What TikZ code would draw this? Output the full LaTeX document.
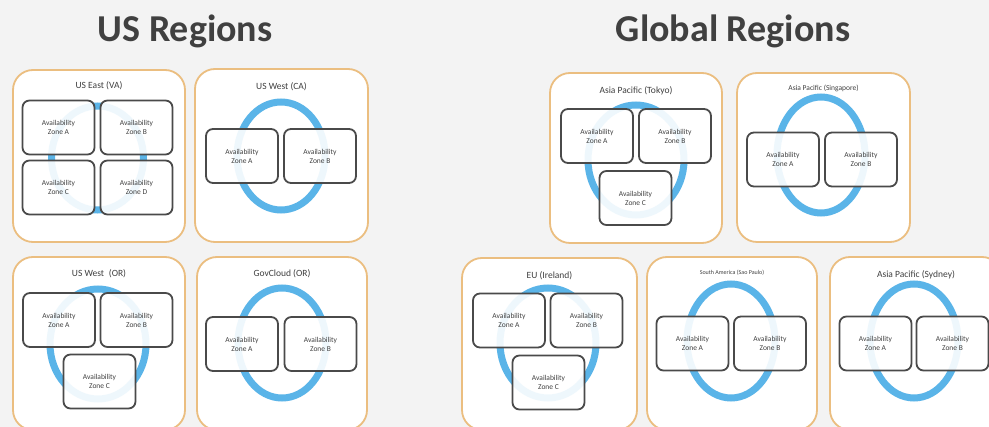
\documentclass[tikz,border=0pt]{standalone}
\usepackage{fontspec}
\setmainfont{Carlito}
\usetikzlibrary{positioning}

\definecolor{bggray}{HTML}{F3F3F3}
\definecolor{regedge}{HTML}{EBBE80}
\definecolor{zoneedge}{HTML}{4A4A4A}
\definecolor{ringblue}{HTML}{5AB4E8}
\definecolor{titlegray}{HTML}{404040}

\tikzset{
  region/.style={rectangle, rounded corners=20pt, draw=regedge, line width=1.8pt, fill=white},
  zone/.style={rectangle, rounded corners=7pt, draw=zoneedge, line width=1.8pt, fill=white, fill opacity=0.9, text opacity=1,
    minimum width=72pt, minimum height=54pt, align=center, text=black!75, font=\fontsize{7.5}{9}\selectfont, inner sep=0pt},
  ring/.style={draw=ringblue, line width=7pt},
  regtitle/.style={text=titlegray, font=\fontsize{9.5}{11}\selectfont, inner sep=0pt},
  bigtitle/.style={text=titlegray, font=\fontsize{38}{40}\selectfont\bfseries, anchor=base}
}

\begin{document}
\begin{tikzpicture}[x=1pt, y=-1pt]

\clip (0,0) rectangle (989,427);
\fill [bggray] (0,0) rectangle (989,427);

\draw (185,42) node (us) [bigtitle] {US Regions};
\draw (733,42) node (glob) [bigtitle] {Global Regions};

% US regions
\draw (99,156) node (use) [region, minimum width=172pt, minimum height=172pt] {};
\draw [ring] (97.5,158) ellipse (46 and 52);
\draw (58.5,127.5) node (usea) [zone] {Availability\\Zone A};
\draw (136.5,127.5) node (useb) [zone] {Availability\\Zone B};
\draw (58.5,187.5) node (usec) [zone] {Availability\\Zone C};
\draw (136.5,187.5) node (used) [zone] {Availability\\Zone D};
\node (uset) [regtitle, below=12pt of use.north] {US East (VA)};

\draw (281.5,155.5) node (usw) [region, minimum width=173pt, minimum height=173pt] {};
\draw [ring] (281,156) ellipse (44 and 54);
\draw (242,156) node (uswa) [zone] {Availability\\Zone A};
\draw (320,156) node (uswb) [zone] {Availability\\Zone B};
\node (uswt) [regtitle, below=14pt of usw.north] {US West (CA)};

\draw (99,343.5) node (usor) [region, minimum width=172pt, minimum height=173pt] {};
\draw [ring] (98,344) ellipse (48 and 55);
\draw (59,320) node (usora) [zone] {Availability\\Zone A};
\draw (136.5,320) node (usorb) [zone] {Availability\\Zone B};
\draw (99.5,381.5) node (usorc) [zone] {Availability\\Zone C};
\node (usort) [regtitle, below=13pt of usor.north] {US West\enspace(OR)};

\draw (282,343.5) node (gov) [region, minimum width=170pt, minimum height=173pt] {};
\draw [ring] (282,343) ellipse (44 and 55);
\draw (242,344) node (gova) [zone] {Availability\\Zone A};
\draw (320.5,344) node (govb) [zone] {Availability\\Zone B};
\node (govt) [regtitle, below=13pt of gov.north] {GovCloud (OR)};

% global regions
\draw (636,158) node (tok) [region, minimum width=172pt, minimum height=170pt] {};
\draw [ring] (636,160) ellipse (48 and 55);
\draw (597,136) node (toka) [zone] {Availability\\Zone A};
\draw (675,136) node (tokb) [zone] {Availability\\Zone B};
\draw (635.5,198) node (tokc) [zone] {Availability\\Zone C};
\node (tokt) [regtitle, below=14pt of tok.north] {Asia Pacific (Tokyo)};

\draw (823.5,157.5) node (sin) [region, minimum width=173pt, minimum height=169pt] {};
\draw [ring] (821,155) ellipse (44 and 58);
\draw (783,159.5) node (sina) [zone] {Availability\\Zone A};
\draw (861,159.5) node (sinb) [zone] {Availability\\Zone B};
\node (sint) [regtitle, font=\fontsize{7.5}{9}\selectfont, below=13pt of sin.north] {Asia Pacific (Singapore)};

\draw (549.5,344) node (eu) [region, minimum width=175pt, minimum height=172pt] {};
\draw [ring] (548,343) ellipse (48 and 55);
\draw (509,320.5) node (eua) [zone] {Availability\\Zone A};
\draw (586.5,320.5) node (eub) [zone] {Availability\\Zone B};
\draw (548.5,382.5) node (euc) [zone] {Availability\\Zone C};
\node (eut) [regtitle, below=14pt of eu.north] {EU (Ireland)};

\draw (732,343.5) node (sa) [region, minimum width=170pt, minimum height=173pt] {};
\draw [ring] (731,341) ellipse (44 and 57);
\draw (692.5,343.5) node (saa) [zone] {Availability\\Zone A};
\draw (770,343.5) node (sab) [zone] {Availability\\Zone B};
\node (sat) [regtitle, font=\fontsize{6}{7}\selectfont, below=14pt of sa.north] {South America (Sao Paulo)};

\draw (916,343.5) node (syd) [region, minimum width=172pt, minimum height=173pt] {};
\draw [ring] (914,341) ellipse (44 and 57);
\draw (875.5,343.5) node (syda) [zone] {Availability\\Zone A};
\draw (952.5,343.5) node (sydb) [zone] {Availability\\Zone B};
\node (sydt) [regtitle, below=14pt of syd.north] {Asia Pacific (Sydney)};

\end{tikzpicture}
\end{document}
